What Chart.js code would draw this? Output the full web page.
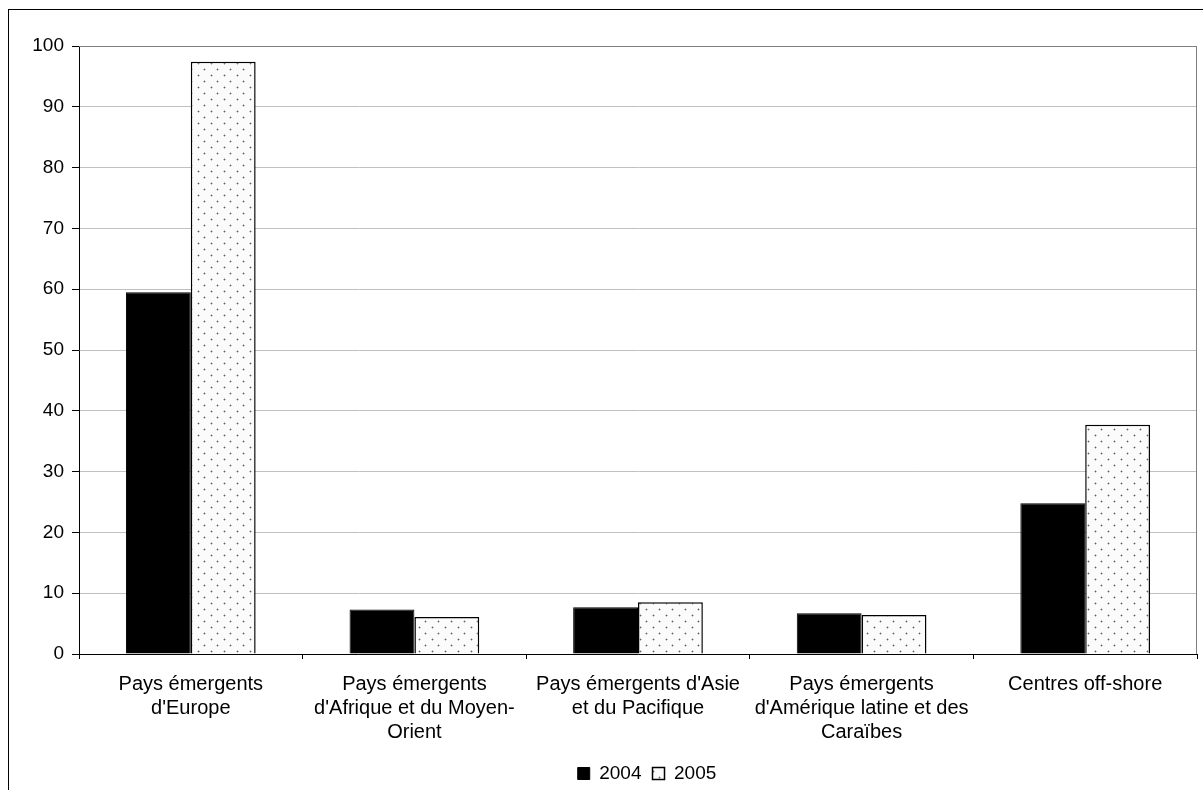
<!DOCTYPE html>
<html>
<head>
<meta charset="utf-8">
<script src="https://cdn.jsdelivr.net/npm/chart.js@4/dist/chart.umd.min.js"></script>
<style>
  html, body { margin: 0; padding: 0; background: #fff; }
  #wrap { position: relative; width: 1203px; height: 790px; overflow: hidden; }
  #frame { position: absolute; left: 8px; top: 9px; width: 1300px; height: 900px;
           border-left: 1px solid #000; border-top: 1px solid #000; box-sizing: border-box; }
  canvas { position: absolute; left: 0; top: 0; }
</style>
</head>
<body>
<div id="wrap">
  <div id="frame"></div>
  <canvas id="c" width="1203" height="790"></canvas>
</div>
<script>
// Regions (multi-line category labels)
const categories = [
  ["Pays émergents", "d'Europe"],
  ["Pays émergents", "d'Afrique et du Moyen-", "Orient"],
  ["Pays émergents d'Asie", "et du Pacifique"],
  ["Pays émergents", "d'Amérique latine et des", "Caraïbes"],
  ["Centres off-shore"]
];
const seriesNames = ["2004", "2005"];
const values2004 = [59.5, 7.3, 7.7, 6.7, 24.8];
const values2005 = [97.4, 6.1, 8.5, 6.4, 37.7];
const yTicks = [0, 10, 20, 30, 40, 50, 60, 70, 80, 90, 100];

// Light dotted fill for the 2005 series
function dotPattern() {
  const t = document.createElement('canvas');
  t.width = 13; t.height = 12;
  const g = t.getContext('2d');
  g.fillStyle = '#fbfbfb';
  g.fillRect(0, 0, 13, 12);
  const dots = [[3, 3], [9, 9]];
  dots.forEach(([x, y]) => {
    g.fillStyle = '#c4c4c4';
    g.fillRect(x - 1, y, 3, 1);
    g.fillRect(x, y - 1, 1, 3);
    g.fillStyle = '#5e5e5e';
    g.fillRect(x, y, 1, 1);
  });
  return g.createPattern(t, 'repeat');
}

// Thin frame on the top and right edges of the plot area
const plotFrame = {
  id: 'plotFrame',
  afterDatasetsDraw(chart) {
    const { ctx, chartArea: a } = chart;
    ctx.save();
    ctx.strokeStyle = '#808080';
    ctx.lineWidth = 1;
    ctx.beginPath();
    ctx.moveTo(a.left, a.top + 0.5);
    ctx.lineTo(a.right - 0.5, a.top + 0.5);
    ctx.lineTo(a.right - 0.5, a.bottom);
    ctx.stroke();
    ctx.restore();
  }
};

// Nudge the legend row to the right, under the middle of the chart
const legendShift = {
  id: 'legendShift',
  afterLayout(chart) {
    if (chart.legend) {
      chart.legend.left += 9;
      chart.legend.right += 9;
    }
  }
};

const family = "'Liberation Sans', Arial, sans-serif";

new Chart(document.getElementById('c'), {
  type: 'bar',
  data: {
    labels: categories,
    datasets: [
      {
        label: seriesNames[0],
        data: values2004,
        backgroundColor: '#000000',
        borderColor: '#000000',
        borderWidth: 1,
        categoryPercentage: 0.58,
        barPercentage: 1.0
      },
      {
        label: seriesNames[1],
        data: values2005,
        backgroundColor: dotPattern(),
        borderColor: '#000000',
        borderWidth: 1.5,
        categoryPercentage: 0.58,
        barPercentage: 1.0
      }
    ]
  },
  options: {
    responsive: false,
    devicePixelRatio: 1,
    animation: false,
    layout: { padding: { top: 46, right: 6, left: 0, bottom: -3 } },
    plugins: {
      legend: {
        position: 'bottom',
        fullSize: false,
        labels: {
          font: { family: family, size: 19 },
          color: '#000',
          boxWidth: 12,
          boxHeight: 12,
          padding: 11
        }
      },
      tooltip: { enabled: false }
    },
    scales: {
      x: {
        afterFit(scale) { scale.height = 99; },
        grid: {
          display: true,
          drawOnChartArea: false,
          drawTicks: true,
          tickLength: 5,
          color: '#000',
          offset: true
        },
        border: { display: true, color: '#000', width: 1 },
        ticks: {
          font: { family: family, size: 20, lineHeight: 1.2 },
          color: '#000',
          maxRotation: 0,
          autoSkip: false,
          padding: 13
        }
      },
      y: {
        min: 0,
        max: 100,
        afterFit(scale) { scale.width = 79; },
        afterBuildTicks(scale) { scale.ticks = yTicks.map(v => ({ value: v })); },
        grid: {
          color: ctx => (ctx.tick && ctx.tick.value === 100) ? '#808080' : '#c0c0c0',
          tickColor: '#000',
          tickLength: 7,
          lineWidth: 1
        },
        border: { display: true, color: '#000', width: 1 },
        ticks: {
          font: { family: family, size: 19 },
          color: '#000',
          padding: 8
        }
      }
    }
  },
  plugins: [plotFrame, legendShift]
});
</script>
</body>
</html>
